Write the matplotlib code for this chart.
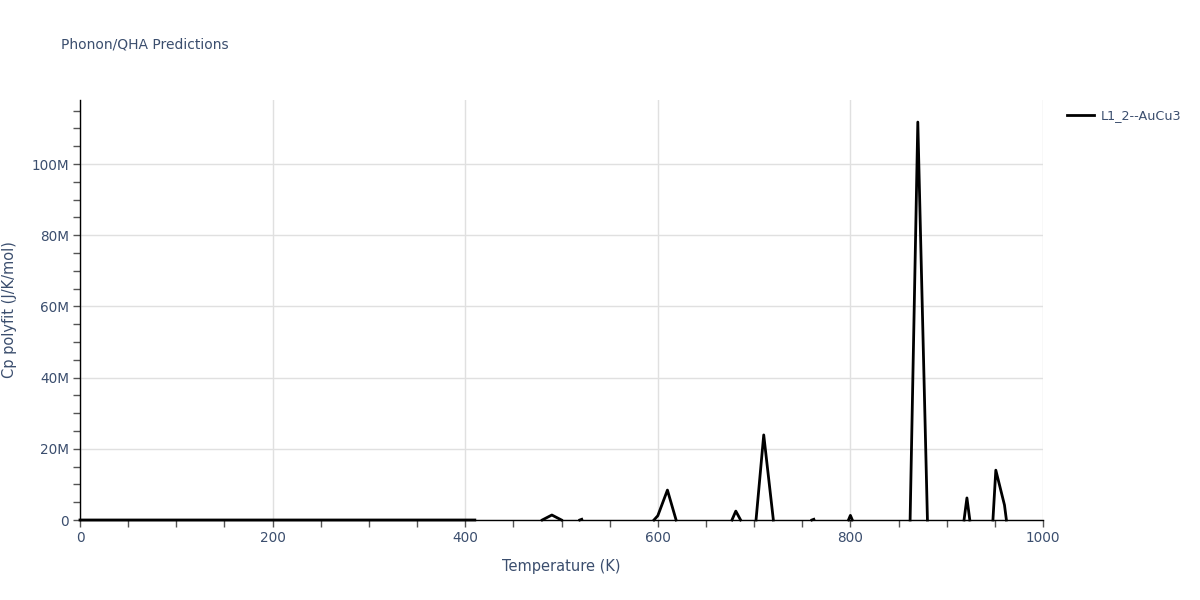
#!/usr/bin/env python3
"""Phonon/QHA Cp polyfit prediction for L1_2--AuCu3, drawn as a PNG."""

import numpy as np
import matplotlib

matplotlib.use("Agg")
import matplotlib.pyplot as plt
from matplotlib.ticker import MultipleLocator, FuncFormatter

nan = np.nan

# Temperature (K) and Cp polyfit (J/K/mol); NaN marks gaps in the fit.
temperature = [
    0, 50, 100, 150, 200, 250, 300, 350, 400, 410, nan,
    480, 490, 500, nan,
    519, 521, nan,
    596, 600, 610, 619, nan,
    677, 681, 686, nan,
    702, 710, 720, nan,
    760, 762, nan,
    798, 800, 802, nan,
    862, 870, 880, nan,
    918, 921, 924, nan,
    948, 951, 960, 962,
]
cp_polyfit = [
    20, 24, 25, 25, 26, 26, 27, 27, 28, 28, nan,
    0, 1.4e6, 0, nan,
    0, 0.2e6, nan,
    0, 1.2e6, 8.4e6, 0, nan,
    0, 2.5e6, 0, nan,
    0, 23.9e6, 0, nan,
    0, 0.2e6, nan,
    0, 1.3e6, 0, nan,
    0, 111.8e6, 0, nan,
    0, 6.2e6, 0, nan,
    0, 14.0e6, 4.2e6, 0,
]
series_name = "L1_2--AuCu3"

TEXT = "#3b4e6e"
GRID = "#e0e0e0"

plt.rcParams["font.family"] = ["DejaVu Sans"]

fig = plt.figure(figsize=(12, 6), dpi=100)
ax = fig.add_axes([80 / 1200, 80 / 600, 963 / 1200, 420 / 600])

ax.plot(temperature, cp_polyfit, color="black", lw=2, label=series_name, clip_on=False)

ax.set_xlim(0, 1000)
ax.set_ylim(0, 118e6)

ax.xaxis.set_major_locator(MultipleLocator(200))
ax.xaxis.set_minor_locator(MultipleLocator(50))
ax.yaxis.set_major_locator(MultipleLocator(20e6))
ax.yaxis.set_minor_locator(MultipleLocator(5e6))
ax.yaxis.set_major_formatter(
    FuncFormatter(lambda v, _: "0" if v == 0 else f"{v / 1e6:.0f}M")
)

ax.grid(True, which="major", color=GRID, lw=1)
ax.set_axisbelow(True)
for side in ("top", "right"):
    ax.spines[side].set_visible(False)
for side in ("left", "bottom"):
    ax.spines[side].set_color("black")
    ax.spines[side].set_linewidth(1)

ax.tick_params(which="major", length=5, width=1, color="#555555",
               labelcolor=TEXT, labelsize=9.8, pad=3)
ax.tick_params(which="minor", length=5, width=1, color="#555555")

ax.set_xlabel("Temperature (K)", color=TEXT, fontsize=10.5, labelpad=10)
ax.set_ylabel("Cp polyfit (J/K/mol)", color=TEXT, fontsize=10.5, labelpad=10)

fig.text(61 / 1200, 1 - 45 / 600, "Phonon/QHA Predictions", color=TEXT,
         fontsize=10, va="center", ha="left")

leg = ax.legend(loc="upper left", bbox_to_anchor=(1062 / 1200, 1 - 104 / 600),
                bbox_transform=fig.transFigure, frameon=False, fontsize=9.2,
                handlelength=2.1, handletextpad=0.5, borderaxespad=0)
for t in leg.get_texts():
    t.set_color(TEXT)

fig.savefig("out.png", dpi=100)
